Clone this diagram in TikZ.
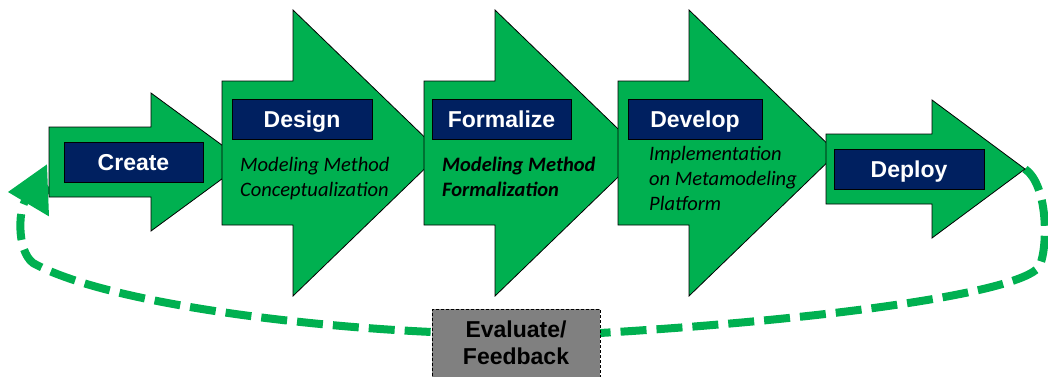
\documentclass[tikz,border=0pt]{standalone}
\usepackage{fontspec}
\setmainfont{Carlito}
\newfontfamily\boxfont{Liberation Sans}
\usetikzlibrary{arrows.meta}
\definecolor{stagegreen}{RGB}{0,176,80}
\definecolor{labelnavy}{RGB}{0,32,96}
\definecolor{evalgray}{RGB}{128,128,128}

\begin{document}
\begin{tikzpicture}[x=1pt, y=-1pt,
  stage/.style={draw=black, line width=0.8pt, fill=stagegreen, line join=miter},
  lbl/.style={draw=black, line width=0.8pt, fill=labelnavy, text=white, minimum height=40pt, inner sep=0pt, text height=17pt, text depth=0pt, font=\boxfont\bfseries\fontsize{23}{27}\selectfont},
  sub/.style={anchor=north west, align=left, inner sep=0pt, font=\itshape\fontsize{20.5}{25}\selectfont},
  loop/.style={draw=stagegreen, line width=8pt, dash pattern=on 26pt off 10pt},
  evalbox/.style={anchor=north, draw=black, line width=0.8pt, dash pattern=on 3pt off 2pt, fill=evalgray, minimum width=168pt, align=center, inner xsep=0pt, inner ysep=11pt, text depth=10pt, font=\boxfont\bfseries\fontsize{23}{27}\selectfont}]
\useasboundingbox (0,0) rectangle (1048,376);

% feedback loop, behind the arrows
\coordinate (deploy tip) at (1025,169);
\coordinate (create back) at (8,192);
\draw[loop, -{Triangle[length=40pt, width=52pt, line width=0pt]}]
  (deploy tip) .. controls (1048,185) and (1048,245) .. (1040,265)
  .. controls (1030,290) and (850,318) .. (600,333) -- (432,332)
  .. controls (280,325) and (100,300) .. (33,263)
  .. controls (16,250) and (18,205) .. (28,197)
  .. controls (58,190) .. (create back);

% stage arrows
\draw[stage] (49,127) -- (151,127) -- (151,93) -- (245,162) -- (151,231) -- (151,197) -- (49,197) -- cycle;
\foreach \l in {222,424,618} {
\draw[stage] (\l,81) --++(71,0) --++(0,-71) --++(148,143) --++(-148,143) --++(0,-71) --++(-71,0) -- cycle;
}
\draw[stage] (826,134) -- (932,134) -- (932,100) -- (deploy tip) -- (932,238) -- (932,204) -- (826,204) -- cycle;

% stage names
\node[lbl, minimum width=139pt] (create) at (133.5,162) {Create};
\node[lbl, minimum width=140pt] (design) at (302,119) {Design};
\node[lbl, minimum width=139pt] (formalize) at (501.5,119) {Formalize};
\node[lbl, minimum width=134pt] (develop) at (695,119) {Develop};
\node[lbl, minimum width=150pt] (deploy) at (909,169) {Deploy};

\node[sub] (design text) at (240,157) {Modeling Method\\Conceptualization};
\node[sub, font=\bfseries\itshape\fontsize{20.5}{25}\selectfont] (formalize text) at (442,157) {Modeling Method\\Formalization};
\node[sub] (develop text) at (649,146) {Implementation\\on Metamodeling\\Platform};

\node[evalbox] (eval) at (516,309) {Evaluate/\\Feedback};
\end{tikzpicture}
\end{document}
